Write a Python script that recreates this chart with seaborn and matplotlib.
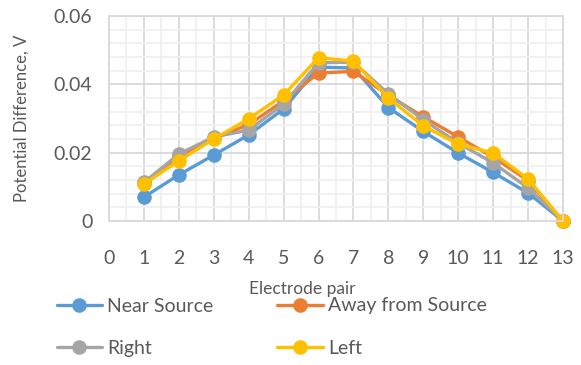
import matplotlib
matplotlib.use("Agg")
import matplotlib.pyplot as plt
import seaborn as sns
import pandas as pd
import numpy as np
from matplotlib.ticker import MultipleLocator

electrode_pair = [1, 2, 3, 4, 5, 6, 7, 8, 9, 10, 11, 12, 13]
near_source = [0.0070, 0.0135, 0.0193, 0.0252, 0.0328, 0.0450, 0.0448, 0.0332, 0.0262, 0.0199, 0.0142, 0.0082, 0.0]
away_source = [0.0110, 0.0190, 0.0242, 0.0282, 0.0352, 0.0433, 0.0438, 0.0368, 0.0305, 0.0246, 0.0187, 0.0118, 0.0]
right = [0.0113, 0.0196, 0.0246, 0.0266, 0.0342, 0.0463, 0.0465, 0.0372, 0.0296, 0.0228, 0.0170, 0.0097, 0.0]
left = [0.0108, 0.0176, 0.0240, 0.0299, 0.0369, 0.0478, 0.0468, 0.0360, 0.0278, 0.0225, 0.0199, 0.0123, 0.0]

series_names = ["Near Source", "Away from Source", "Right", "Left"]
colors = ["#5B9BD5", "#ED7D31", "#A5A5A5", "#FFC000"]

df = pd.DataFrame({
    "Electrode pair": electrode_pair * 4,
    "value": near_source + away_source + right + left,
    "series": sum([[n] * len(electrode_pair) for n in series_names], []),
})

sns.set_theme(style="white")
plt.rcParams['font.family'] = ['Lato', 'DejaVu Sans']
txt = "#595959"

fig = plt.figure(figsize=(5.81, 3.65), dpi=100)
ax = fig.add_axes([109/581, 1 - 221/365, (563 - 109)/581, (221 - 16)/365])

sns.lineplot(data=df, x="Electrode pair", y="value", hue="series", hue_order=series_names,
             palette=colors, marker="o", markersize=10.5, markeredgewidth=0,
             linewidth=2.4, ax=ax, legend=False, sort=False, clip_on=False)

ax.set_xlim(0, 13)
ax.set_ylim(0, 0.06)
ax.xaxis.set_major_locator(MultipleLocator(1))
ax.xaxis.set_minor_locator(MultipleLocator(0.5))
ax.yaxis.set_major_locator(MultipleLocator(0.02))
ax.yaxis.set_minor_locator(MultipleLocator(0.004))
ax.grid(which="major", color="#D9D9D9", linewidth=1.3)
ax.grid(which="minor", color="#F0F0F0", linewidth=1.3)
ax.set_axisbelow(True)
for s in ax.spines.values():
    s.set_color("#D9D9D9")
    s.set_linewidth(1.3)
ax.set_yticks([0, 0.02, 0.04, 0.06])
ax.set_yticklabels(["0", "0.02", "0.04", "0.06"])
ax.tick_params(axis="x", which="both", length=0, pad=21, labelsize=14, labelcolor=txt)
ax.tick_params(axis="y", which="both", length=0, pad=12, labelsize=14, labelcolor=txt)
ax.set_xlabel("Electrode pair", fontsize=12.5, color=txt)
ax.xaxis.set_label_coords((302 - 109) / 454, -(289 - 221) / 205, transform=ax.transAxes)
ax.xaxis.label.set_va("center")
ax.set_ylabel("Potential Difference, V", fontsize=12, color=txt)
ax.yaxis.set_label_coords(-(109 - 22) / 454, 0.5)
ax.yaxis.label.set_va("center")

handles = [plt.Line2D([], [], color=c, marker="o", markersize=10.5, markeredgewidth=0, linewidth=2.4)
           for c in colors]
order = [0, 2, 1, 3]
leg = fig.legend([handles[i] for i in order], [series_names[i] for i in order], ncol=2,
                 loc="upper left", bbox_to_anchor=(39/581, 1 - 280/365), frameon=False,
                 fontsize=14, handlelength=2.35, handletextpad=0.25, columnspacing=3.3,
                 labelspacing=1.3)
for t in leg.get_texts():
    t.set_color(txt)

fig.savefig("out.png", dpi=100)
